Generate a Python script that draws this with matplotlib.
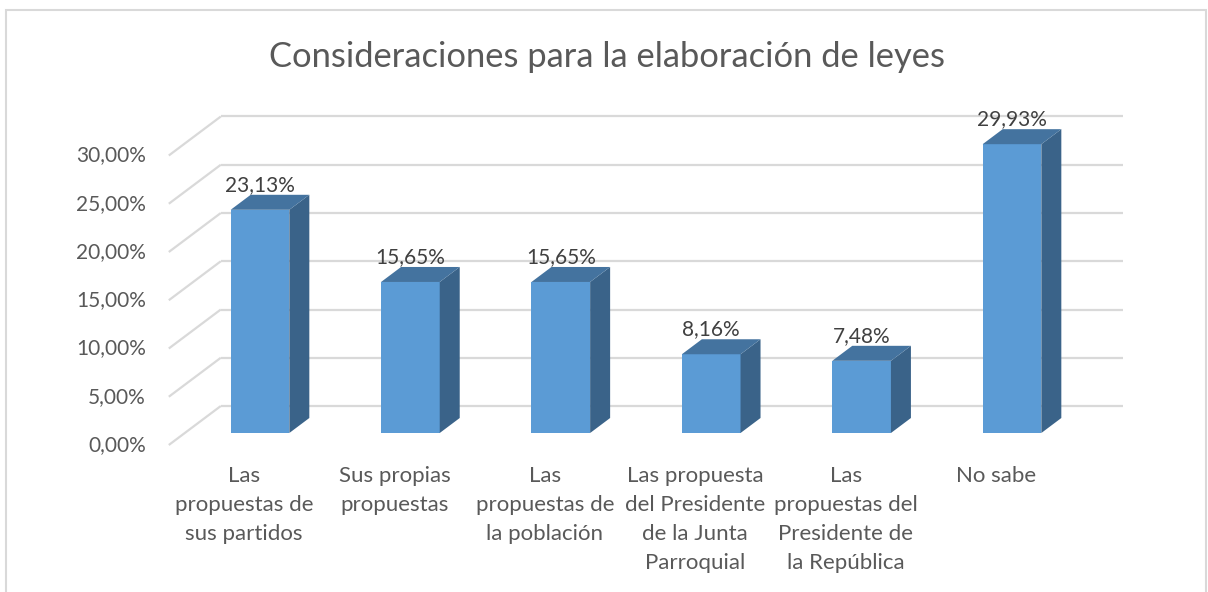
import matplotlib
matplotlib.use("Agg")
import matplotlib.pyplot as plt
from matplotlib.patches import Polygon, Rectangle

# Datos
categorias = [
    "Las\npropuestas de\nsus partidos",
    "Sus propias\npropuestas",
    "Las\npropuestas de\nla población",
    "Las propuesta\ndel Presidente\nde la Junta\nParroquial",
    "Las\npropuestas del\nPresidente de\nla República",
    "No sabe",
]
valores = [23.13, 15.65, 15.65, 8.16, 7.48, 29.93]
etiquetas_valor = ["23,13%", "15,65%", "15,65%", "8,16%", "7,48%", "29,93%"]
ticks_y = [0, 5, 10, 15, 20, 25, 30]
ticks_y_txt = ["0,00%", "5,00%", "10,00%", "15,00%", "20,00%", "25,00%", "30,00%"]

titulo = "Consideraciones para la elaboración de leyes"

# Estilo
c_frente = "#5B9BD5"
c_lado = "#3A6389"
c_tope = "#44739F"
c_grid = "#D9D9D9"
c_texto = "#595959"
c_valor = "#404040"
fuente = "Lato"

W, H = 1208, 592
fig = plt.figure(figsize=(W / 100, H / 100), dpi=100)
ax = fig.add_axes([0, 0, 1, 1])
ax.axis("off")

# escala: pixeles por categoría y por punto porcentual
PX_CAT = 150.4
PX_PCT = 9.65
X0_PX = 260
Y0_PX = 433
ax.set_xlim((0 - X0_PX) / PX_CAT, (W - X0_PX) / PX_CAT)
ax.set_ylim((Y0_PX - H) / PX_PCT, Y0_PX / PX_PCT)


def prof(d):
    """Desplazamiento oblicuo (en datos) para una profundidad d en px."""
    return d * 4 / 3 / PX_CAT, d / PX_PCT


# Paredes: rejilla al fondo y diagonales en la pared izquierda
dfx, dfy = prof(27)    # pared del fondo
dax, day = prof(-12)   # borde delantero
for t in ticks_y:
    ax.plot([-0.5 + dfx, 5.5 + dfx], [t + dfy, t + dfy], color=c_grid, lw=1.6,
            zorder=1, solid_capstyle="butt")
    ax.plot([-0.5 + dax, -0.5 + dfx], [t + day, t + dfy], color=c_grid, lw=1.6,
            zorder=1, solid_capstyle="butt")

# Etiquetas eje Y
for t, s in zip(ticks_y, ticks_y_txt):
    ax.text((146 - X0_PX) / PX_CAT, t + day, s, ha="right", va="center",
            fontsize=15, color=c_texto, family=fuente)

# Barras 3D
ancho = 0.39
bx, by = prof(15)
xs = list(range(len(valores)))
ax.bar(xs, valores, width=ancho, color=c_frente, zorder=3)
for x, v, lab in zip(xs, valores, etiquetas_valor):
    der = x + ancho / 2
    izq = x - ancho / 2
    ax.add_patch(Polygon([(der, 0), (der + bx, by), (der + bx, v + by), (der, v)],
                         closed=True, facecolor=c_lado, edgecolor="none", zorder=3))
    ax.add_patch(Polygon([(izq, v), (der, v), (der + bx, v + by), (izq + bx, v + by)],
                         closed=True, facecolor=c_tope, edgecolor="none", zorder=3))
    ax.text(x, v + by + 10 / PX_PCT, lab, ha="center", va="center",
            fontsize=15, color=c_valor, family=fuente, zorder=4)

# Etiquetas de categoría
for x, cat in zip(xs, categorias):
    ax.text(x + dax, (Y0_PX - 466) / PX_PCT, cat, ha="center", va="top",
            fontsize=16, color=c_texto, family=fuente, linespacing=1.56,
            multialignment="center")

# Título
ax.text((607 - X0_PX) / PX_CAT, (Y0_PX - 57) / PX_PCT, titulo, ha="center",
        va="center", fontsize=24.8, color=c_texto, family=fuente)

# Marco del gráfico
fig.patches.append(Rectangle((6 / W, -0.01), (1200 / W), (H - 10) / H + 0.01,
                             transform=fig.transFigure, fill=False,
                             edgecolor="#D9D9D9", lw=1.5))

fig.savefig("out.png", dpi=100, facecolor="white")
